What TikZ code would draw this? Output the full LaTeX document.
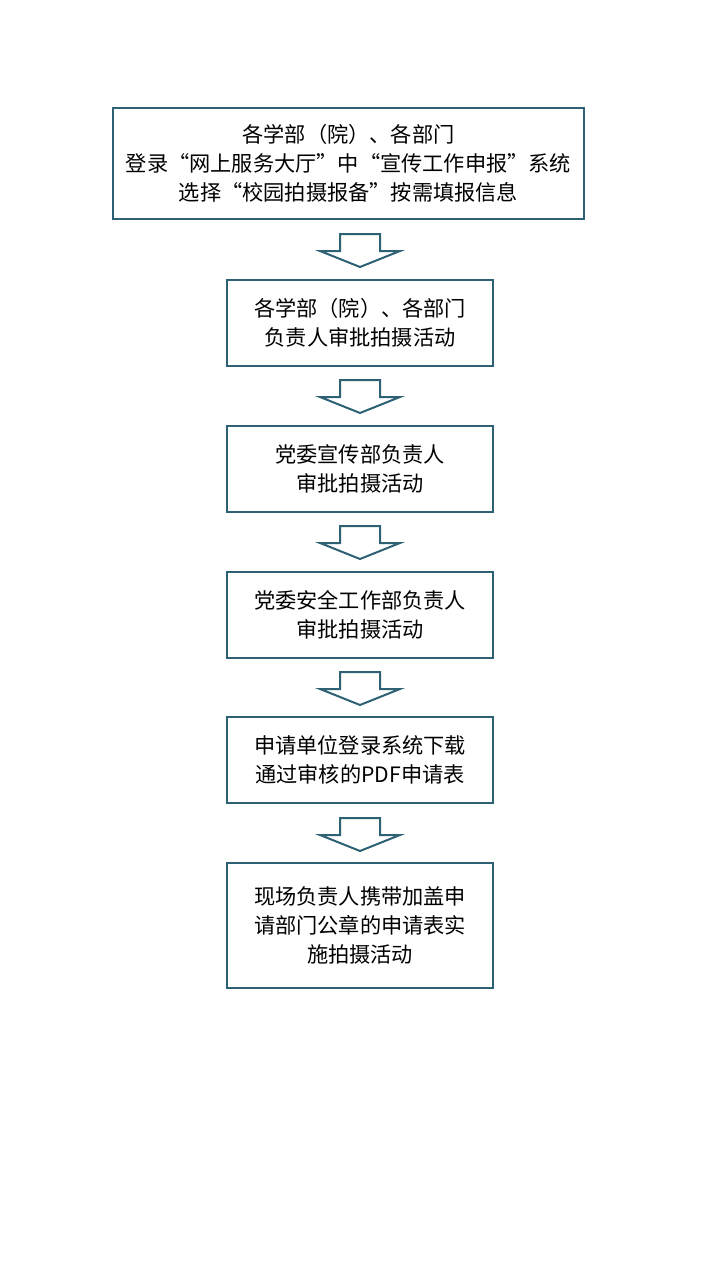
\documentclass[tikz,border=0pt]{standalone}
\usepackage{fontspec}
\setmainfont{Noto Sans CJK SC}
\begin{document}
\begin{tikzpicture}[x=0.5pt,y=-0.5pt,
  bx/.style={draw=tealc,line width=1pt,align=center,inner sep=0pt,font=\fontsize{10.6pt}{14.5pt}\selectfont},
  ar/.style={draw=tealc,line width=1pt,fill=white}]
\definecolor{tealc}{HTML}{2E6174}
\useasboundingbox (0,0) rectangle (720,1280);
\node[bx,minimum width=471\pgflinewidth*0+235.5pt,minimum height=55.5pt] (b1) at (348.5,163.5) {各学部（院）、各部门\\登录“网上服务大厅”中“宣传工作申报”系统\\选择“校园拍摄报备”按需填报信息};
\node[bx,minimum width=133pt,minimum height=43pt] (b2) at (360,323) {各学部（院）、各部门\\负责人审批拍摄活动};
\node[bx,minimum width=133pt,minimum height=43pt] (b3) at (360,469) {党委宣传部负责人\\审批拍摄活动};
\node[bx,minimum width=133pt,minimum height=43pt] (b4) at (360,615) {党委安全工作部负责人\\审批拍摄活动};
\node[bx,minimum width=133pt,minimum height=43pt] (b5) at (360,760) {申请单位登录系统下载\\通过审核的PDF申请表};
\node[bx,minimum width=133pt,minimum height=62.5pt] (b6) at (360,925.5) {现场负责人携带加盖申\\请部门公章的申请表实\\施拍摄活动};
\foreach \t in {234,380,526,672,818}{
  \draw[ar] (340,\t) -- (380,\t) -- (380,\t+17) -- (400,\t+17) -- (360,\t+33) -- (320,\t+17) -- (340,\t+17) -- cycle;
}
\end{tikzpicture}
\end{document}
